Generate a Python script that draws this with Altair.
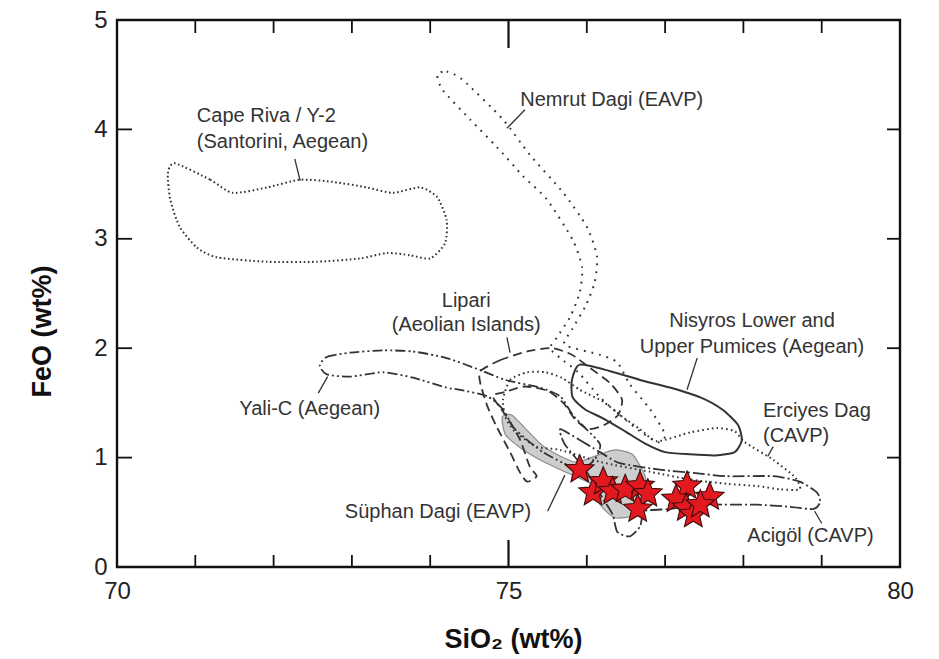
import altair as alt
import pandas as pd

# ---------------- data (SiO2 wt%, FeO wt%) ----------------
cape_x = [70.74, 71.19, 71.48, 71.92, 72.34, 72.76, 73.19, 73.52, 73.87, 74.09, 74.21, 74.19,
          74.00, 73.74, 73.45, 73.10, 72.55, 71.92, 71.28, 71.02, 70.80, 70.68, 70.65]
cape_y = [3.69, 3.54, 3.42, 3.47, 3.54, 3.52, 3.47, 3.42, 3.47, 3.38, 3.17, 2.96,
          2.82, 2.85, 2.87, 2.82, 2.79, 2.79, 2.83, 2.92, 3.11, 3.36, 3.60]

nemrut_x = [74.09, 74.21, 74.42, 74.93, 75.27, 75.70, 76.00, 76.13, 76.10, 75.98, 75.81, 75.72,
            76.17, 76.39, 76.55, 76.81, 77.00, 76.91, 76.68, 76.42, 76.17, 75.89, 75.66, 75.53,
            75.62, 75.79, 75.91, 75.94, 75.82, 75.49, 75.19, 74.85, 74.51, 74.16]
nemrut_y = [4.50, 4.53, 4.45, 4.09, 3.77, 3.42, 3.11, 2.84, 2.60, 2.38, 2.17, 2.03,
            1.94, 1.87, 1.67, 1.44, 1.21, 1.14, 1.24, 1.39, 1.55, 1.78, 1.91, 2.00,
            2.10, 2.29, 2.51, 2.74, 2.99, 3.36, 3.57, 3.84, 4.09, 4.36]

lipari_x = [74.64, 74.89, 75.24, 75.56, 75.81, 76.04, 76.30, 76.45, 76.40, 76.23, 76.02, 75.85,
            75.70, 75.50, 75.21, 74.96, 74.80, 74.98, 75.15, 75.27, 75.36, 75.24, 75.15, 75.02,
            74.85, 74.73, 74.64]
lipari_y = [1.79, 1.89, 1.97, 2.00, 1.94, 1.82, 1.68, 1.53, 1.39, 1.30, 1.26, 1.35,
            1.50, 1.61, 1.65, 1.60, 1.56, 1.37, 1.16, 0.92, 0.83, 0.78, 0.86, 1.05,
            1.28, 1.47, 1.68]

yali_x = [72.59, 72.68, 72.98, 73.40, 73.78, 74.21, 74.64, 74.96, 75.40, 75.66, 75.82, 75.98,
          76.17, 76.10, 75.91, 75.70, 75.44, 75.24, 75.06, 74.93, 74.73, 74.38, 74.21, 73.78,
          73.40, 72.98, 72.68]
yali_y = [1.84, 1.92, 1.96, 1.98, 1.97, 1.91, 1.80, 1.71, 1.64, 1.56, 1.39, 1.27,
          1.12, 0.98, 0.89, 0.95, 1.05, 1.16, 1.28, 1.44, 1.56, 1.62, 1.64, 1.73,
          1.78, 1.74, 1.76]

nisyros_x = [75.91, 76.30, 76.68, 77.06, 77.45, 77.73, 77.93, 77.98, 77.89, 77.64, 77.32, 77.00,
             76.74, 76.49, 76.23, 75.98, 75.82, 75.81]
nisyros_y = [1.85, 1.79, 1.71, 1.64, 1.55, 1.44, 1.30, 1.16, 1.05, 1.02, 1.03, 1.05,
             1.13, 1.24, 1.35, 1.44, 1.55, 1.71]

erciyes_x = [74.93, 75.02, 75.24, 75.47, 75.68, 75.91, 76.21, 76.46, 76.68, 76.90, 77.32, 77.66,
             77.89, 78.02, 78.38, 78.66, 78.72, 78.47, 78.17, 77.79, 77.32, 76.81, 76.17, 75.66,
             75.36, 75.08, 74.96]
erciyes_y = [1.53, 1.71, 1.78, 1.78, 1.73, 1.62, 1.51, 1.37, 1.26, 1.15, 1.23, 1.27,
             1.24, 1.14, 0.98, 0.82, 0.71, 0.71, 0.74, 0.76, 0.80, 0.87, 0.96, 1.07,
             1.10, 1.24, 1.37]

acigol_x = [75.66, 75.91, 76.17, 76.42, 76.93, 77.36, 77.79, 78.38, 78.72, 78.94, 78.98, 78.89,
            78.60, 78.17, 77.74, 77.45, 77.06, 76.74, 76.68, 76.55, 76.39, 76.33, 76.21, 75.98,
            75.72]
acigol_y = [1.26, 1.16, 1.05, 0.95, 0.89, 0.86, 0.83, 0.83, 0.78, 0.68, 0.59, 0.53,
            0.55, 0.57, 0.57, 0.57, 0.53, 0.51, 0.37, 0.28, 0.32, 0.48, 0.62, 0.89,
            1.12]

suphan_x = [74.92, 75.04, 75.21, 75.47, 75.85, 76.17, 76.36, 76.58, 76.74, 76.77, 76.64, 76.36,
            76.17, 76.07, 75.72, 75.40, 75.15, 74.96]
suphan_y = [1.37, 1.39, 1.27, 1.09, 0.96, 1.03, 1.07, 1.03, 0.84, 0.64, 0.48, 0.45,
            0.57, 0.75, 0.87, 0.98, 1.09, 1.21]

star_x = [75.91, 76.08, 76.21, 76.33, 76.49, 76.68, 76.78, 76.65, 77.28, 77.14, 77.27, 77.36, 77.57, 77.45]
star_y = [0.89, 0.68, 0.78, 0.69, 0.71, 0.74, 0.67, 0.53, 0.74, 0.62, 0.54, 0.48, 0.64, 0.57]

# leader lines (from, to)
lead_x1 = [72.27, 75.21, 74.98, 77.41, 78.38, 72.57, 75.50, 78.91]
lead_y1 = [3.73, 4.18, 2.10, 1.91, 1.10, 1.59, 0.51, 0.51]
lead_x2 = [72.34, 74.98, 75.02, 77.28, 78.31, 72.69, 75.72, 79.00]
lead_y2 = [3.53, 4.01, 1.96, 1.62, 1.01, 1.74, 0.84, 0.40]

# labels
left_text = ["Cape Riva / Y-2", "(Santorini, Aegean)", "Nemrut Dagi (EAVP)", "Erciyes Dag", "(CAVP)",
             "Süphan Dagi (EAVP)", "Acigöl (CAVP)"]
left_x = [71.02, 71.02, 75.15, 78.25, 78.25, 72.91, 78.05]
left_y = [4.07, 3.83, 4.21, 1.37, 1.14, 0.45, 0.23]

center_text = ["Lipari", "(Aeolian Islands)", "Nisyros Lower and", "Upper Pumices (Aegean)"]
center_x = [74.46, 74.46, 78.11, 78.11]
center_y = [2.38, 2.16, 2.19, 1.96]

right_text = ["Yali-C (Aegean)"]
right_x = [73.36]
right_y = [1.39]

x_minor = [71, 72, 73, 74, 76, 77, 78, 79]
x_major = [75]
y_ticks = [1, 2, 3, 4]

# ---------------- chart ----------------
W, H = 783, 547
FONT = "Liberation Sans"
INK = "#333333"
STAR_PATH = ("M0,-1L0.265,-0.364L0.951,-0.309L0.428,0.139L0.588,0.809L0,0.45"
             "L-0.588,0.809L-0.428,0.139L-0.951,-0.309L-0.265,-0.364Z")

xaxis = alt.Axis(orient="bottom", values=[70, 75, 80], ticks=False, domain=False, grid=False,
                 labelFlush=False,
                 labelFontSize=24, labelFont=FONT, labelColor="#222", labelPadding=12,
                 title="SiO\u2082 (wt%)", titleFont=FONT, titleFontSize=27, titleFontWeight="bold",
                 titleColor="#111", titleX=396, titleY=80, titleBaseline="alphabetic",
                 titleAlign="center")
yaxis = alt.Axis(orient="left", values=[0, 1, 2, 3, 4, 5], ticks=False, domain=False, grid=False,
                 labelFlush=False,
                 labelFontSize=24, labelFont=FONT, labelColor="#222", labelPadding=10,
                 title="FeO (wt%)", titleFont=FONT, titleFontSize=27, titleFontWeight="bold",
                 titleColor="#111", titleX=-75, titleY=311, titleAlign="center",
                 titleBaseline="middle", titleAngle=270)
xs = alt.Scale(domain=[70, 80], nice=False, zero=False)
ys = alt.Scale(domain=[0, 5], nice=False, zero=True)


def X(f):
    return alt.X(f"{f}:Q", scale=xs, axis=xaxis)


def Y(f):
    return alt.Y(f"{f}:Q", scale=ys, axis=yaxis)


def shape_df(xv, yv):
    return pd.DataFrame({"SiO2": xv, "FeO": yv, "i": list(range(len(xv)))})


def outline(xv, yv, dash, width=1.8, tension=0.35):
    kw = dict(interpolate="cardinal-closed", tension=tension, color=INK, strokeWidth=width)
    if dash:
        kw["strokeDash"] = dash
    return alt.Chart(shape_df(xv, yv)).mark_line(**kw).encode(
        x=X("SiO2"), y=Y("FeO"), order="i:Q")


def text_layer(t, xv, yv, align):
    df = pd.DataFrame({"SiO2": xv, "FeO": yv, "t": t})
    return alt.Chart(df).mark_text(align=align, baseline="alphabetic", font=FONT,
                                   fontSize=20, color=INK).encode(
        x=X("SiO2"), y=Y("FeO"), text="t:N")


def xtick(vals, y0, y1, w):
    return alt.Chart(pd.DataFrame({"SiO2": vals})).mark_rule(color="#111", strokeWidth=w).encode(
        x=X("SiO2"), y=alt.value(y0), y2=alt.value(y1))


def ytick(vals, x0, x1):
    return alt.Chart(pd.DataFrame({"FeO": vals})).mark_rule(color="#111", strokeWidth=1.8).encode(
        y=Y("FeO"), x=alt.value(x0), x2=alt.value(x1))


layers = [
    xtick(x_minor, H, H - 12, 1.8), xtick(x_major, H, H - 27, 2.2),
    xtick(x_minor, 0, 13, 1.8), xtick(x_major, 0, 28, 2.2),
    ytick(y_ticks, 0, 15), ytick(y_ticks, W, W - 13),
    text_layer(left_text, left_x, left_y, "left"),
    text_layer(center_text, center_x, center_y, "center"),
    text_layer(right_text, right_x, right_y, "right"),
]

lead_df = pd.DataFrame({"ax": lead_x1, "ay": lead_y1, "bx": lead_x2, "by": lead_y2})
layers.append(alt.Chart(lead_df).mark_rule(color=INK, strokeWidth=1.3).encode(
    x=X("ax"), y=Y("ay"), x2="bx:Q", y2="by:Q"))

suphan = alt.Chart(shape_df(suphan_x, suphan_y)).mark_line(
    interpolate="cardinal-closed", tension=0.35, fill="#c8c8c8", fillOpacity=0.9,
    stroke="#8c8c8c", strokeWidth=1.2).encode(x=X("SiO2"), y=Y("FeO"), order="i:Q")

layers += [
    suphan,
    outline(cape_x, cape_y, [1.6, 2.6], 2.0),
    outline(nemrut_x, nemrut_y, [1.8, 6], 2.0),
    outline(erciyes_x, erciyes_y, [1.6, 3.2], 2.0),
    outline(lipari_x, lipari_y, [9, 5]),
    outline(yali_x, yali_y, [10, 3, 2, 3, 2, 3]),
    outline(acigol_x, acigol_y, [12, 3, 2, 3]),
    outline(nisyros_x, nisyros_y, None, 2.0),
]

star_df = pd.DataFrame({"SiO2": star_x, "FeO": star_y})
layers.append(alt.Chart(star_df).mark_point(
    shape=STAR_PATH, size=900, filled=True, fill="#e3191f", stroke="#3a0c0c",
    strokeWidth=1.1, fillOpacity=1).encode(x=X("SiO2"), y=Y("FeO")))

chart = alt.layer(*layers).properties(
    width=W, height=H,
    autosize=alt.AutoSizeParams(type="none"),
    padding={"left": 109, "top": 12, "right": 20, "bottom": 88},
    background="white",
).configure_view(stroke="#111", strokeWidth=2.4)

chart.save("out.html", embed_options={"renderer": "svg", "actions": False})
